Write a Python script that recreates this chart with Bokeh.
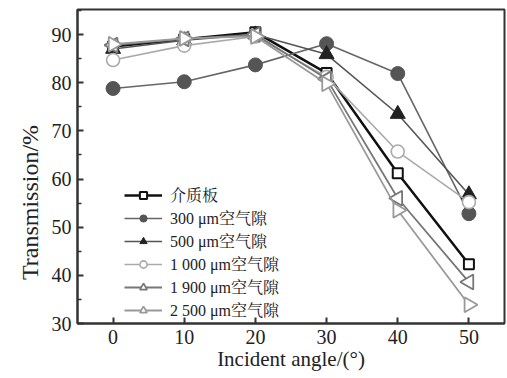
import math
from bokeh.plotting import figure
from bokeh.models import Legend, LegendItem, FixedTicker, ColumnDataSource
from bokeh.embed import file_html
from bokeh.resources import INLINE

angles = [0, 10, 20, 30, 40, 50]
dielectric = [87.5, 89.0, 90.5, 82.0, 61.2, 42.3]
gap_300 = [78.8, 80.2, 83.7, 88.1, 81.9, 52.8]
gap_500 = [87.0, 88.8, 90.0, 85.9, 73.5, 56.8]
gap_1000 = [84.7, 87.7, 89.6, 81.2, 65.7, 55.2]
gap_1900 = [87.8, 89.1, 90.0, 80.8, 56.0, 38.6]
gap_2500 = [88.0, 89.2, 89.6, 79.8, 53.5, 33.9]
labels = ["介质板", "300 μm空气隙", "500 μm空气隙", "1 000 μm空气隙", "1 900 μm空气隙", "2 500 μm空气隙"]
x_ticks = [0, 10, 20, 30, 40, 50]
y_ticks = [30, 40, 50, 60, 70, 80, 90]

FONT = "Liberation Serif, Noto Serif CJK SC, Noto Sans CJK SC"

p = figure(width=507, height=378, output_backend="svg", toolbar_location=None,
           x_range=(-5, 55), y_range=(30, 95.2),
           min_border_left=77, min_border_right=3, min_border_top=9, min_border_bottom=55)
p.grid.visible = False
p.outline_line_color = "#333333"
p.outline_line_width = 2
p.background_fill_color = "white"
p.border_fill_color = "white"

for ax in (p.xaxis[0], p.yaxis[0]):
    ax.axis_line_color = "#333333"
    ax.axis_line_width = 2
    ax.major_tick_in = 6
    ax.major_tick_out = 0
    ax.major_tick_line_width = 2
    ax.major_tick_line_color = "#333333"
    ax.major_label_text_font = FONT
    ax.major_label_text_font_size = "20px"
    ax.major_label_text_color = "#222222"
    ax.axis_label_text_font = FONT
    ax.axis_label_text_font_style = "normal"
    ax.axis_label_text_color = "#222222"

p.xaxis.axis_label_text_font_size = "21px"
p.yaxis.axis_label_text_font_size = "24px"
p.xaxis.ticker = FixedTicker(ticks=x_ticks)
p.xaxis.minor_tick_line_color = None
p.yaxis.ticker = FixedTicker(ticks=y_ticks, minor_ticks=[35, 45, 55, 65, 75, 85, 95])
p.yaxis.minor_tick_in = 4
p.yaxis.minor_tick_out = 0
p.yaxis.minor_tick_line_width = 1.5
p.yaxis.minor_tick_line_color = "#333333"
p.xaxis.axis_label = "Incident angle/(°)"
p.yaxis.axis_label = "Transmission/%" + "\u00a0" * 12
p.xaxis.major_label_standoff = 6
p.yaxis.major_label_standoff = 6
p.xaxis.axis_label_standoff = 0
p.yaxis.axis_label_standoff = 6

series = [
    (dielectric, "#111111", 2.5, "square", "#111111", "white", 10, 0.0, 2.0),
    (gap_300, "#666666", 1.6, "circle", "#555555", "#555555", 14, 0.0, 1.0),
    (gap_500, "#555555", 1.6, "triangle", "#222222", "#222222", 15, 0.0, 1.0),
    (gap_1000, "#aaaaaa", 1.6, "circle", "#aaaaaa", "white", 13, 0.0, 1.6),
    (gap_1900, "#777777", 1.8, "triangle", "#777777", "white", 15, math.pi / 2, 1.8),
    (gap_2500, "#999999", 1.8, "triangle", "#999999", "white", 15, -math.pi / 2, 1.8),
]

items = []
for i, (ys, lc, lw, mk, mlc, mfc, ms, ang, mlw) in enumerate(series):
    src = ColumnDataSource(dict(x=angles, y=ys))
    r1 = p.line("x", "y", source=src, line_color=lc, line_width=lw)
    r2 = p.scatter("x", "y", source=src, marker=mk, size=ms, line_color=mlc, fill_color=mfc,
                   line_width=mlw, angle=ang)
    items.append(LegendItem(label=labels[i], renderers=[r1, r2]))

legend = Legend(items=items, location=(47, 2), border_line_color=None,
                background_fill_alpha=0, label_text_font=FONT,
                label_text_font_size="16px", label_text_color="#222222",
                glyph_width=38, glyph_height=18, label_height=18, spacing=0,
                padding=0, margin=0, label_standoff=8)
p.add_layout(legend, "center")

open("out.html", "w").write(file_html(p, INLINE))
